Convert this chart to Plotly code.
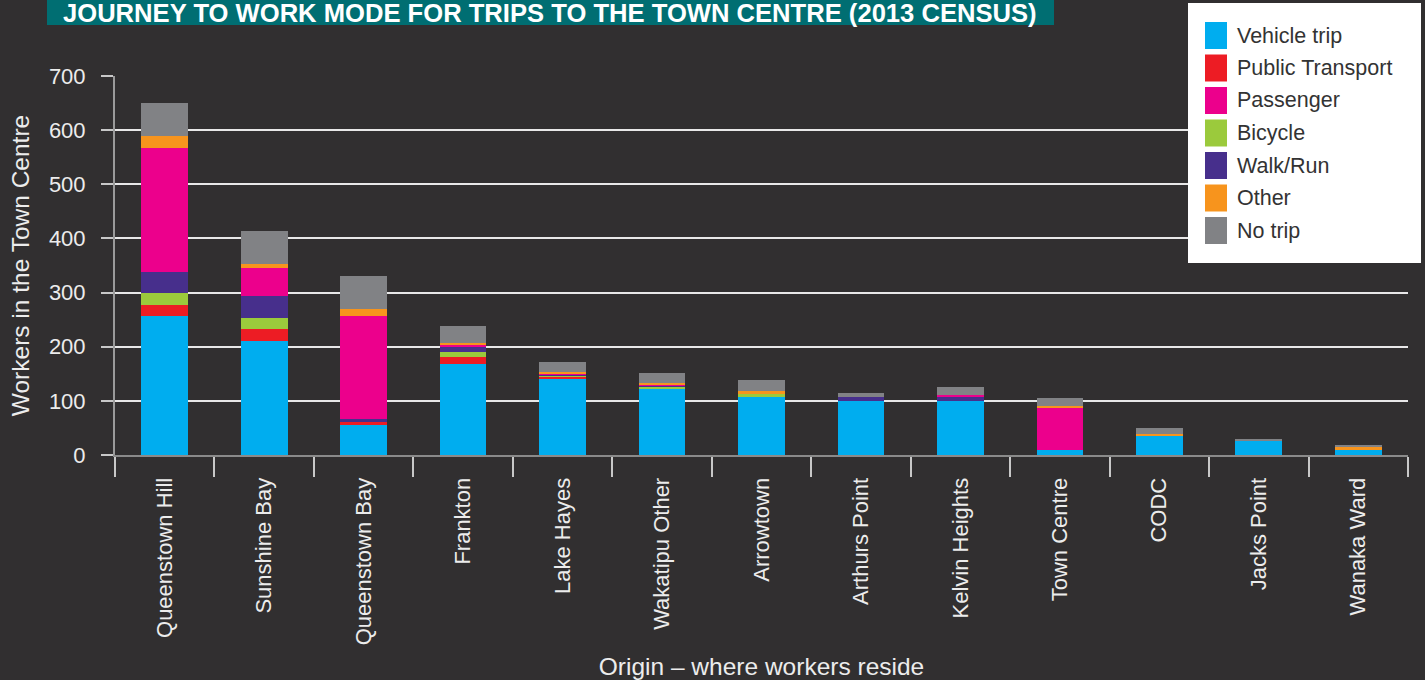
import plotly.graph_objects as go

categories = ["Queenstown Hill", "Sunshine Bay", "Queenstown Bay", "Frankton", "Lake Hayes",
              "Wakatipu Other", "Arrowtown", "Arthurs Point", "Kelvin Heights", "Town Centre",
              "CODC", "Jacks Point", "Wanaka Ward"]
vehicle   = [257, 211, 55, 168, 142, 122, 107, 100, 100, 9, 35, 26, 9]
public    = [20, 22, 6, 13, 3, 0, 0, 0, 0, 0, 0, 0, 0]
bicycle   = [22, 20, 0, 9, 1, 4, 6, 0, 0, 0, 0, 0, 0]
walk      = [39, 41, 5, 10, 2, 3, 0, 7, 7, 0, 0, 0, 0]
passenger = [229, 51, 191, 3, 2, 1, 0, 0, 4, 78, 0, 0, 0]
other     = [22, 8, 13, 4, 3, 3, 5, 0, 0, 3, 4, 0, 6]
no_trip   = [61, 61, 61, 31, 19, 18, 21, 8, 15, 15, 11, 3, 2]

y_ticks = [0, 100, 200, 300, 400, 500, 600, 700]

# stacking order (bottom -> top)
stack = [
    ("Vehicle trip", vehicle, "#00adef"),
    ("Public Transport", public, "#ed1c24"),
    ("Bicycle", bicycle, "#9bca3c"),
    ("Walk/Run", walk, "#472f8c"),
    ("Passenger", passenger, "#ec008c"),
    ("Other", other, "#f7941d"),
    ("No trip", no_trip, "#818285"),
]
legend_order = ["Vehicle trip", "Public Transport", "Passenger", "Bicycle", "Walk/Run", "Other", "No trip"]
color_of = {n: c for n, _, c in stack}

BG = "#312f30"
W, H = 1425, 680
L, R, T, B = 115, 17, 76, 225


def px_x(p):
    return (p - L) / (W - L - R)


def px_y(p):
    return (H - B - p) / (H - T - B)


fig = go.Figure()
for name, vals, col in stack:
    fig.add_trace(go.Bar(x=categories, y=vals, name=name, marker=dict(color=col, line=dict(width=0)),
                         width=0.47))

shapes = []
annotations = []

# title bar
shapes.append(dict(type="rect", xref="paper", yref="paper", x0=px_x(47), x1=px_x(1054),
                   y0=px_y(25), y1=px_y(-5), fillcolor="#006e72", line=dict(width=0), layer="above"))
annotations.append(dict(xref="paper", yref="paper", x=px_x(550), y=px_y(0), xanchor="center",
                        yanchor="top", showarrow=False,
                        text="<b>JOURNEY TO WORK MODE FOR TRIPS TO THE TOWN CENTRE (2013 CENSUS)</b>",
                        font=dict(family="Liberation Sans Narrow, Arial Narrow, Liberation Sans",
                                  size=25.6, color="white"), yshift=3))

# legend box
shapes.append(dict(type="rect", xref="paper", yref="paper", x0=px_x(1188), x1=px_x(1421),
                   y0=px_y(263), y1=px_y(3), fillcolor="white", line=dict(width=0), layer="above"))
for i, n in enumerate(legend_order):
    top = 22 + i * 32.5
    shapes.append(dict(type="rect", xref="paper", yref="paper", x0=px_x(1205), x1=px_x(1227),
                       y0=px_y(top + 27), y1=px_y(top), fillcolor=color_of[n], line=dict(width=0),
                       layer="above"))
    annotations.append(dict(xref="paper", yref="paper", x=px_x(1235), y=px_y(top + 13.5),
                            xanchor="left", yanchor="middle", showarrow=False, text=n,
                            font=dict(family="Liberation Sans, Arial", size=21.5, color="#333333")))

fig.update_layout(
    width=W, height=H,
    barmode="stack",
    showlegend=False,
    paper_bgcolor=BG, plot_bgcolor=BG,
    margin=dict(l=L, r=R, t=T, b=B, autoexpand=False),
    font=dict(family="Liberation Sans, Arial", color="#e6e6e6", size=21),
    shapes=shapes, annotations=annotations,
    xaxis=dict(
        type="category", tickangle=-90, tickson="boundaries", ticks="outside", ticklen=20,
        tickcolor="#c8c8c8", tickwidth=1.5, showline=True, linecolor="#8a8a8a", linewidth=2,
        showgrid=False, tickfont=dict(size=22, color="#ececec"), ticklabelstandoff=12,
        title=dict(text="Origin – where workers reside", font=dict(size=24.5, color="#ececec"), standoff=15),
        automargin=False,
    ),
    yaxis=dict(
        range=[0, 700], tickvals=y_ticks, ticks="outside", ticklen=12, tickcolor="#c8c8c8", tickwidth=1.5,
        showline=True, linecolor="#9a9a9a", linewidth=2, showgrid=True, gridcolor="#e8e8e8",
        gridwidth=1.5, zeroline=False, tickfont=dict(size=22, color="#ececec"), ticklabelstandoff=11,
        title=dict(text="Workers in the Town Centre", font=dict(size=24.5, color="#ececec"), standoff=12),
        automargin=False,
    ),
)

fig.write_html("out.html")
